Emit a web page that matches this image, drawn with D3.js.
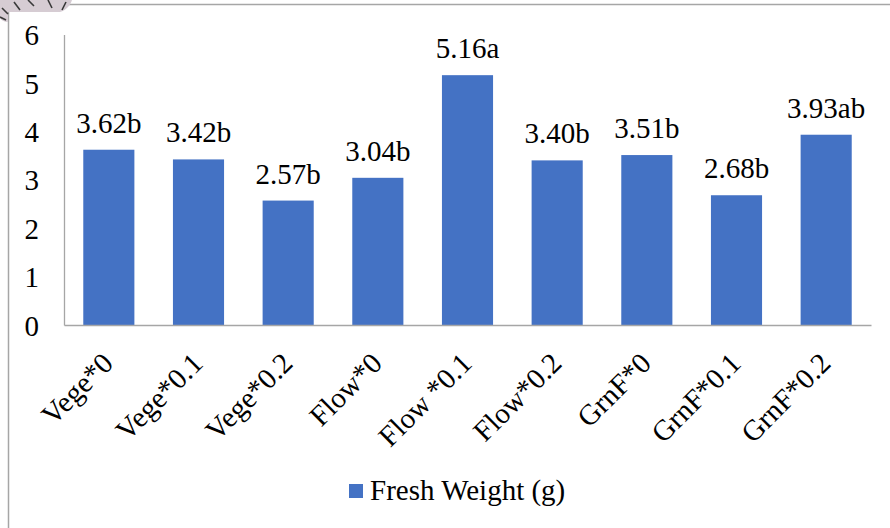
<!DOCTYPE html>
<html>
<head>
<meta charset="utf-8">
<script src="https://cdn.jsdelivr.net/npm/d3@7"></script>
<style>
  html, body { margin: 0; padding: 0; background: #fff; }
  svg { display: block; }
  text { font-family: "Liberation Serif", "Times New Roman", serif; fill: #000; }
</style>
</head>
<body>
<svg id="chart" width="890" height="528"></svg>
<script>
// Treatments and mean fresh weight per plant
const categories = ["Vege*0", "Vege*0.1", "Vege*0.2", "Flow*0", "Flow *0.1", "Flow*0.2", "GrnF*0", "GrnF*0.1", "GrnF*0.2"];
const freshWeight = [3.62, 3.42, 2.57, 3.04, 5.16, 3.40, 3.51, 2.68, 3.93];
const letters = ["b", "b", "b", "b", "a", "b", "b", "b", "ab"];
const yTicks = [0, 1, 2, 3, 4, 5, 6];
const seriesName = "Fresh Weight (g)";

const svg = d3.select("#chart");
const W = 890, H = 528;
const plot = { left: 64, right: 871, top: 34.5, bottom: 325 };
const barColor = "#4472C4";
const fontSize = "29px";

// Chart frame (extends past the right and bottom edges)
svg.append("rect")
  .attr("x", 8.5).attr("y", 4.5)
  .attr("width", W + 20).attr("height", H + 20)
  .attr("fill", "#fff").attr("stroke", "#a6a6a6").attr("stroke-width", 1.5);

// Small decorative scribble at the top-left corner
const deco = svg.append("g");
deco.append("path")
  .attr("d", "M0,0 L72,0 C70,6 66,10 60,12 L8,12 L8,22 C4,22 1,20 0,18 Z")
  .attr("fill", "#d6ccd3");
deco.append("path")
  .attr("d", "M2,8 L8,14 M14,2 L20,10 M28,0 L34,6 M48,0 L52,8 M66,2 L62,10 M0,17 L6,20")
  .attr("stroke", "#3a3a3a").attr("stroke-width", 1.6).attr("fill", "none");

const x = d3.scaleBand()
  .domain(categories)
  .range([plot.left, plot.right])
  .paddingInner(0.43)
  .paddingOuter(0.215);

const y = d3.scaleLinear()
  .domain([0, 6])
  .range([plot.bottom, plot.top]);

// Bars
svg.append("g").selectAll("rect")
  .data(freshWeight)
  .join("rect")
  .attr("x", (d, i) => x(categories[i]))
  .attr("y", d => y(d))
  .attr("width", x.bandwidth())
  .attr("height", d => y(0) - y(d))
  .attr("fill", barColor);

// Value labels with significance letters
svg.append("g").selectAll("text")
  .data(freshWeight)
  .join("text")
  .attr("x", (d, i) => x(categories[i]) + x.bandwidth() / 2)
  .attr("y", d => y(d) - 17)
  .attr("text-anchor", "middle")
  .style("font-size", fontSize)
  .text((d, i) => d.toFixed(2) + letters[i]);

// Y axis
const yAxis = svg.append("g")
  .attr("transform", `translate(${plot.left},0)`)
  .call(d3.axisLeft(y).tickValues(yTicks).tickSize(0).tickPadding(25).tickFormat(d3.format("d")));
yAxis.select(".domain").attr("stroke", "#a6a6a6").attr("stroke-width", 1.3);
yAxis.selectAll("text")
  .style("font-size", fontSize)
  .attr("dy", "0.35em");

// X axis
const xAxis = svg.append("g")
  .attr("transform", `translate(0,${plot.bottom})`)
  .call(d3.axisBottom(x).tickSize(0).tickPadding(0));
xAxis.select(".domain").attr("stroke", "#a6a6a6").attr("stroke-width", 1.3);
xAxis.selectAll("text")
  .style("font-size", fontSize)
  .attr("text-anchor", "end")
  .attr("dy", "0")
  .attr("transform", "translate(6,40) rotate(-45)");

// Legend
const legend = svg.append("g").attr("transform", "translate(349,484)");
legend.append("rect")
  .attr("width", 14).attr("height", 14)
  .attr("fill", barColor);
legend.append("text")
  .attr("x", 21).attr("y", 16)
  .style("font-size", fontSize)
  .text(seriesName);
</script>
</body>
</html>
